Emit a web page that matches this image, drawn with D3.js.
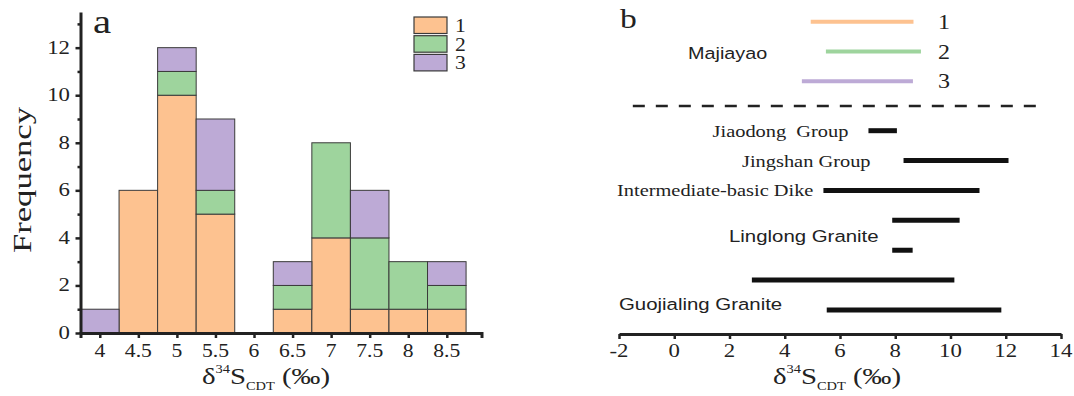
<!DOCTYPE html>
<html>
<head>
<meta charset="utf-8">
<script src="https://cdn.jsdelivr.net/npm/d3@7"></script>
<style>
  body { margin: 0; background: #fff; }
  svg { display: block; }
</style>
</head>
<body>
<div id="chart"></div>
<script>
(function() {

// ---- data, panel a (histogram) ----
var bins = [4, 4.5, 5, 5.5, 6, 6.5, 7, 7.5, 8, 8.5];
var group1 = [0, 6, 10, 5, 0, 1, 4, 1, 1, 1];
var group2 = [0, 0, 1, 1, 0, 1, 4, 3, 2, 1];
var group3 = [1, 0, 1, 3, 0, 1, 0, 2, 0, 1];
var seriesNames = ["1", "2", "3"];
var freqTicks = [0, 2, 4, 6, 8, 10, 12];
var freqMinor = [1, 3, 5, 7, 9, 11, 13];

// ---- data, panel b (ranges) ----
var majiayaoLo = [4.94, 5.49, 4.62];
var majiayaoHi = [8.66, 8.93, 8.64];
var otherRows = ["Jiaodong Group", "Jingshan Group", "Intermediate-basic Dike",
                 "Linglong Granite a", "Linglong Granite b",
                 "Guojialing Granite a", "Guojialing Granite b"];
var otherLo = [7.03, 8.3, 5.4, 7.89, 7.89, 2.81, 5.52];
var otherHi = [8.06, 12.1, 11.05, 10.33, 8.63, 10.14, 11.84];
var rangeTicks = [-2, 0, 2, 4, 6, 8, 10, 12, 14];

var colors = ["#fdc290", "#9ed49d", "#bdaad6"];
var serif = "'Liberation Serif', 'Times New Roman', serif";
var sans = "'Liberation Sans', Arial, sans-serif";
var sx = 1.2; // the picture's text is a bit wide

var svg = d3.select("#chart").append("svg")
    .attr("width", 1074)
    .attr("height", 396);

function label(g, x, y, str, font, size, anchor) {
  return g.append("text")
      .attr("transform", "translate(" + x + "," + y + ") scale(" + sx + ",1)")
      .attr("text-anchor", anchor || "start")
      .style("font-family", font)
      .style("font-size", size + "px")
      .style("fill", "#222")
      .text(str);
}

function deltaTitle(g, cx, y) {
  var t = g.append("text")
      .attr("transform", "translate(" + cx + "," + y + ") scale(" + sx + ",1)")
      .attr("text-anchor", "middle")
      .style("font-family", serif)
      .style("font-size", "24px")
      .style("fill", "#222");
  t.append("tspan").text("\u03b4");
  t.append("tspan").attr("dy", -11).style("font-size", "12px").text("34");
  t.append("tspan").attr("dy", 11).text("S");
  t.append("tspan").attr("dy", 6).style("font-size", "12px").text("CDT");
  t.append("tspan").attr("dy", -6).text(" (\u2030)");
}

// ================= panel a =================
var x = d3.scaleLinear().domain([3.75, 8.95]).range([80.5, 481.5]);
var y = d3.scaleLinear().domain([0, 13.5]).range([333, 12]);

var a = svg.append("g");

var table = bins.map(function(b, i) {
  return {bin: b, "1": group1[i], "2": group2[i], "3": group3[i]};
});
var stacked = d3.stack().keys(seriesNames)(table);

a.selectAll(".layer")
    .data(stacked)
  .enter().append("g")
    .attr("class", "layer")
    .style("fill", function(d, i) { return colors[i]; })
  .selectAll("rect")
    .data(function(d) { return d.filter(function(p) { return p[1] > p[0]; }); })
  .enter().append("rect")
    .attr("x", function(d) { return x(d.data.bin - 0.25); })
    .attr("width", function(d) { return x(d.data.bin + 0.25) - x(d.data.bin - 0.25); })
    .attr("y", function(d) { return y(d[1]); })
    .attr("height", function(d) { return y(d[0]) - y(d[1]); })
    .style("stroke", "#3a3a3a")
    .style("stroke-width", 1);

var xAxisA = a.append("g")
    .attr("transform", "translate(0," + y(0) + ")")
    .call(d3.axisBottom(x).tickValues(bins)
      .tickFormat(function(d) { return d; }).tickSize(5).tickSizeOuter(5));
var yAxisA = a.append("g")
    .attr("transform", "translate(" + x(3.75) + ",0)")
    .call(d3.axisLeft(y).tickValues(freqTicks).tickSize(5).tickSizeOuter(0));
a.append("g")
    .attr("transform", "translate(" + x(3.75) + ",0)")
    .call(d3.axisLeft(y).tickValues(freqMinor.filter(function(v) { return v < 13.5; }))
      .tickFormat("").tickSize(3).tickSizeOuter(0))
    .select(".domain").remove();

[xAxisA, yAxisA].forEach(function(ax) {
  ax.select(".domain").style("stroke", "#222").style("stroke-width", 3);
  ax.selectAll(".tick text").remove();
});
a.selectAll(".tick line").style("stroke", "#222").style("stroke-width", 2.5);

bins.forEach(function(b) {
  label(a, x(b), 356.5, String(b), serif, 18, "middle");
});
freqTicks.forEach(function(v) {
  label(a, 70, y(v) + 6, String(v), serif, 19, "end");
});

a.append("text")
    .attr("transform", "translate(31,180) rotate(-90)")
    .attr("text-anchor", "middle")
    .attr("textLength", 146)
    .attr("lengthAdjust", "spacingAndGlyphs")
    .style("font-family", serif)
    .style("font-size", "25px")
    .style("fill", "#222")
    .text("Frequency");

label(a, 93, 33, "a", serif, 34, "start");
deltaTitle(a, 266, 384);

// legend
var leg = a.append("g").attr("transform", "translate(414,17)");
seriesNames.forEach(function(name, i) {
  leg.append("rect")
      .attr("x", 0).attr("y", i * 18.7)
      .attr("width", 33).attr("height", 16.5)
      .style("fill", colors[i])
      .style("stroke", "#3a3a3a")
      .style("stroke-width", 1.2);
  label(leg, 41, i * 18.7 + 15, name, serif, 18, "start");
});

// ================= panel b =================
var xb = d3.scaleLinear().domain([-2, 14]).range([619, 1061]);
var topRow = d3.scalePoint().domain(seriesNames).range([21.7, 81.3]);
var lowRow = d3.scalePoint().domain(otherRows).range([130.7, 310]);

var b = svg.append("g");

var xAxisB = b.append("g")
    .attr("transform", "translate(0,334)")
    .call(d3.axisBottom(xb).tickValues(rangeTicks).tickSize(5).tickSizeOuter(0));
xAxisB.select(".domain").style("stroke", "#222").style("stroke-width", 3);
xAxisB.selectAll(".tick line").style("stroke", "#222").style("stroke-width", 2.5);
xAxisB.selectAll(".tick text").remove();
rangeTicks.forEach(function(v) {
  label(b, xb(v), 357, String(v), serif, 19, "middle");
});

// Majiayao coloured ranges
b.selectAll(".maj")
    .data(seriesNames)
  .enter().append("line")
    .attr("class", "maj")
    .attr("x1", function(d, i) { return xb(majiayaoLo[i]); })
    .attr("x2", function(d, i) { return xb(majiayaoHi[i]); })
    .attr("y1", function(d) { return topRow(d); })
    .attr("y2", function(d) { return topRow(d); })
    .style("stroke", function(d, i) { return colors[i]; })
    .style("stroke-width", 4);
seriesNames.forEach(function(name) {
  label(b, 938, topRow(name) + 7, name, serif, 20, "start");
});
label(b, 688, 58.5, "Majiayao", sans, 16.5, "start");

// divider
var midY = (topRow(seriesNames[2]) + lowRow(otherRows[0])) / 2;
b.append("line")
    .attr("x1", xb(-1.5)).attr("x2", xb(13.25))
    .attr("y1", midY).attr("y2", midY)
    .style("stroke", "#222")
    .style("stroke-width", 2.5)
    .style("stroke-dasharray", "12,11");

// other ranges
b.selectAll(".rng")
    .data(otherRows)
  .enter().append("line")
    .attr("class", "rng")
    .attr("x1", function(d, i) { return xb(otherLo[i]); })
    .attr("x2", function(d, i) { return xb(otherHi[i]); })
    .attr("y1", function(d) { return lowRow(d); })
    .attr("y2", function(d) { return lowRow(d); })
    .style("stroke", "#111")
    .style("stroke-width", 5);

label(b, xb(otherLo[0]) - 20, lowRow(otherRows[0]) + 6, "Jiaodong\u00a0 Group", serif, 17, "end");
label(b, xb(otherLo[1]) - 33, lowRow(otherRows[1]) + 6, "Jingshan Group", serif, 17, "end");
label(b, xb(otherLo[2]) - 10, lowRow(otherRows[2]) + 6, "Intermediate-basic Dike", serif, 17, "end");
label(b, 729, (lowRow(otherRows[3]) + lowRow(otherRows[4])) / 2 + 7, "Linglong Granite", sans, 17, "start");
label(b, 619, 310, "Guojialing Granite", sans, 17, "start");

label(b, 620, 28, "b", serif, 28, "start");
deltaTitle(b, 837, 384);

})()
</script>
</body>
</html>
